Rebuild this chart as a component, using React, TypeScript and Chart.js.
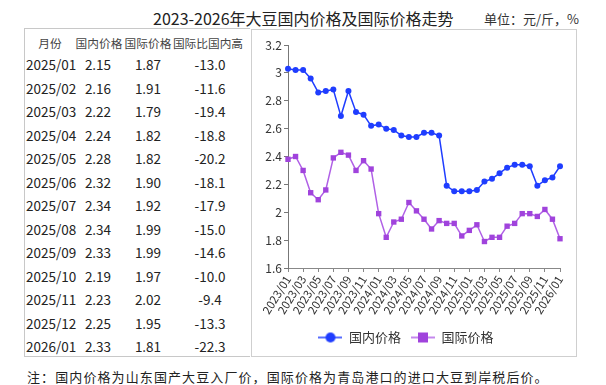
import React, { useEffect, useRef } from "react";
import { Chart, registerables } from "chart.js";

Chart.register(...registerables);

const months = [
  "2023/01","2023/02","2023/03","2023/04","2023/05","2023/06","2023/07","2023/08","2023/09","2023/10","2023/11","2023/12",
  "2024/01","2024/02","2024/03","2024/04","2024/05","2024/06","2024/07","2024/08","2024/09","2024/10","2024/11","2024/12",
  "2025/01","2025/02","2025/03","2025/04","2025/05","2025/06","2025/07","2025/08","2025/09","2025/10","2025/11","2025/12",
  "2026/01",
];

const domestic = [
  3.03, 3.02, 3.02, 2.96, 2.86, 2.87, 2.88, 2.69, 2.87, 2.72, 2.70, 2.62,
  2.63, 2.60, 2.59, 2.55, 2.54, 2.54, 2.57, 2.57, 2.55, 2.19, 2.15, 2.15,
  2.15, 2.16, 2.22, 2.24, 2.28, 2.32, 2.34, 2.34, 2.33, 2.19, 2.23, 2.25,
  2.33,
];

const international = [
  2.38, 2.40, 2.30, 2.14, 2.09, 2.16, 2.39, 2.43, 2.41, 2.30, 2.37, 2.31,
  1.99, 1.82, 1.93, 1.95, 2.07, 2.01, 1.95, 1.88, 1.94, 1.92, 1.92, 1.83,
  1.87, 1.91, 1.79, 1.82, 1.82, 1.90, 1.92, 1.99, 1.99, 1.97, 2.02, 1.95,
  1.81,
];

const tableHeaders = ["月份", "国内价格", "国际价格", "国际比国内高"];
const tableMonths = ["2025/01","2025/02","2025/03","2025/04","2025/05","2025/06","2025/07","2025/08","2025/09","2025/10","2025/11","2025/12","2026/01"];
const tableDomestic = ["2.15","2.16","2.22","2.24","2.28","2.32","2.34","2.34","2.33","2.19","2.23","2.25","2.33"];
const tableIntl = ["1.87","1.91","1.79","1.82","1.82","1.90","1.92","1.99","1.99","1.97","2.02","1.95","1.81"];
const tableDiff = ["-13.0","-11.6","-19.4","-18.8","-20.2","-18.1","-17.9","-15.0","-14.6","-10.0","-9.4","-13.3","-22.3"];

const seriesNames = ["国内价格", "国际价格"];
const titleText = "2023-2026年大豆国内价格及国际价格走势";
const unitText = "单位：元/斤，%";
const noteText = "注：国内价格为山东国产大豆入厂价，国际价格为青岛港口的进口大豆到岸税后价。";

const BLUE = "#1f3dff";
const PURPLE_LINE = "#b060e6";
const PURPLE_PT = "#a043dc";
const FONT = '"Noto Sans CJK SC", "Noto Sans", sans-serif';

function legendIcon(color: string, lineColor: string, kind: "circle" | "rect") {
  const c = document.createElement("canvas");
  c.width = 24;
  c.height = 12;
  const ctx = c.getContext("2d")!;
  ctx.strokeStyle = lineColor;
  ctx.lineWidth = 1.5;
  ctx.beginPath();
  ctx.moveTo(0, 6);
  ctx.lineTo(24, 6);
  ctx.stroke();
  ctx.fillStyle = color;
  if (kind === "circle") {
    ctx.beginPath();
    ctx.arc(12, 6, 5, 0, Math.PI * 2);
    ctx.fill();
  } else {
    ctx.fillRect(7, 1, 10, 10);
  }
  return c;
}

export default function App() {
  const ref = useRef<HTMLCanvasElement | null>(null);

  useEffect(() => {
    if (!ref.current) return;
    const icons = [
      legendIcon(BLUE, BLUE, "circle"),
      legendIcon(PURPLE_PT, PURPLE_LINE, "rect"),
    ];
    const chart = new Chart(ref.current, {
      type: "line",
      data: {
        labels: months,
        datasets: [
          {
            label: seriesNames[0],
            data: domestic,
            borderColor: BLUE,
            backgroundColor: BLUE,
            pointBackgroundColor: BLUE,
            pointBorderColor: BLUE,
            pointStyle: "circle",
            pointRadius: 3,
            pointBorderWidth: 0,
            borderWidth: 1.5,
            tension: 0,
          },
          {
            label: seriesNames[1],
            data: international,
            borderColor: PURPLE_LINE,
            backgroundColor: PURPLE_PT,
            pointBackgroundColor: PURPLE_PT,
            pointBorderColor: PURPLE_PT,
            pointStyle: "rect",
            pointRadius: 3.8,
            pointBorderWidth: 0,
            borderWidth: 1.5,
            tension: 0,
          },
        ],
      },
      options: {
        animation: false,
        responsive: false,
        devicePixelRatio: 1,
        layout: { padding: { left: 0, right: 16, top: 15, bottom: 2 } },
        plugins: {
          title: { display: false },
          tooltip: { enabled: false },
          legend: {
            position: "bottom",
            labels: {
              usePointStyle: true,
              pointStyleWidth: 24,
              padding: 10,
              color: "#333",
              font: { family: FONT, size: 13 },
              generateLabels: (ch: any) => {
                const base = Chart.defaults.plugins.legend.labels.generateLabels(ch);
                return base.map((l: any, i: number) => ({ ...l, pointStyle: icons[i], lineWidth: 0 }));
              },
            },
          },
        },
        scales: {
          x: {
            type: "category",
            offset: false,
            afterFit: (s: any) => { s.height = 53; },
            grid: { display: true, drawOnChartArea: false, drawTicks: true, tickLength: 4, color: "#888" },
            border: { display: true, color: "#888", width: 1 },
            ticks: {
              autoSkip: false,
              maxRotation: 58,
              minRotation: 58,
              padding: 1,
              color: "#333",
              font: { family: FONT, size: 11.5 },
              callback: (_v: any, i: number) => (i % 2 === 0 ? months[i] : null),
            },
          },
          y: {
            min: 1.6,
            max: 3.2,
            afterFit: (s: any) => { s.width = 36; },
            grid: { display: true, drawOnChartArea: false, drawTicks: true, tickLength: 4, color: "#777" },
            border: { display: true, color: "#777", width: 1 },
            ticks: {
              stepSize: 0.2,
              padding: 2,
              color: "#333",
              font: { family: FONT, size: 12 },
              callback: (v: any) => String(+Number(v).toFixed(1)),
            },
          },
        },
      },
    } as any);
    return () => chart.destroy();
  }, []);

  const rowY = (i: number) => 64 + i * 23.5;
  const cell = (text: string, cx: number, cy: number, key: string, align: "center" | "left" = "center") => (
    <div
      key={key}
      style={{
        position: "absolute",
        left: align === "center" ? cx - 50 : cx,
        width: align === "center" ? 100 : undefined,
        top: cy - 10,
        height: 20,
        lineHeight: "20px",
        textAlign: align,
        whiteSpace: "nowrap",
      }}
    >
      {text}
    </div>
  );

  return (
    <div
      style={{
        position: "absolute",
        left: 0,
        top: 0,
        width: 606,
        height: 385,
        background: "#fff",
        fontFamily: FONT,
        color: "#222",
        overflow: "hidden",
      }}
    >
      <div style={{ position: "absolute", left: 153, top: 7, fontSize: 16, lineHeight: "22px", whiteSpace: "nowrap" }}>
        {titleText}
      </div>
      <div style={{ position: "absolute", left: 484, top: 9, fontSize: 13, lineHeight: "20px", whiteSpace: "nowrap", color: "#333" }}>
        {unitText}
      </div>

      <div
        style={{
          position: "absolute",
          left: 24,
          top: 28,
          width: 226,
          height: 329,
          boxSizing: "border-box",
          borderLeft: "1px solid #c8c8c8",
          borderTop: "1px solid #c8c8c8",
          borderBottom: "1px solid #c8c8c8",
        }}
      />
      <div style={{ position: "absolute", left: 0, top: 0, fontSize: 11.7, color: "#444" }}>
        {cell(tableHeaders[0], 50, 43, "h0")}
        {cell(tableHeaders[1], 99, 43, "h1")}
        {cell(tableHeaders[2], 148, 43, "h2")}
        {cell(tableHeaders[3], 208, 43, "h3")}
      </div>
      <div style={{ position: "absolute", left: 0, top: 0, fontSize: 13.5, color: "#222" }}>
        {tableMonths.map((m, i) => cell(m, 26, rowY(i), "m" + i, "left"))}
        {tableDomestic.map((v, i) => cell(v, 98, rowY(i), "d" + i))}
        {tableIntl.map((v, i) => cell(v, 148, rowY(i), "n" + i))}
        {tableDiff.map((v, i) => cell(v, 210, rowY(i), "f" + i))}
      </div>

      <div
        style={{
          position: "absolute",
          left: 251,
          top: 29,
          width: 326,
          height: 328,
          boxSizing: "border-box",
          border: "1px solid #cfcfcf",
        }}
      >
        <canvas ref={ref} width={324} height={326} style={{ display: "block", width: 324, height: 326 }} />
      </div>

      <div
        style={{
          position: "absolute",
          left: 27,
          top: 368,
          fontSize: 13,
          letterSpacing: "1.1px",
          lineHeight: "18px",
          whiteSpace: "nowrap",
          color: "#222",
        }}
      >
        {noteText}
      </div>
    </div>
  );
}
